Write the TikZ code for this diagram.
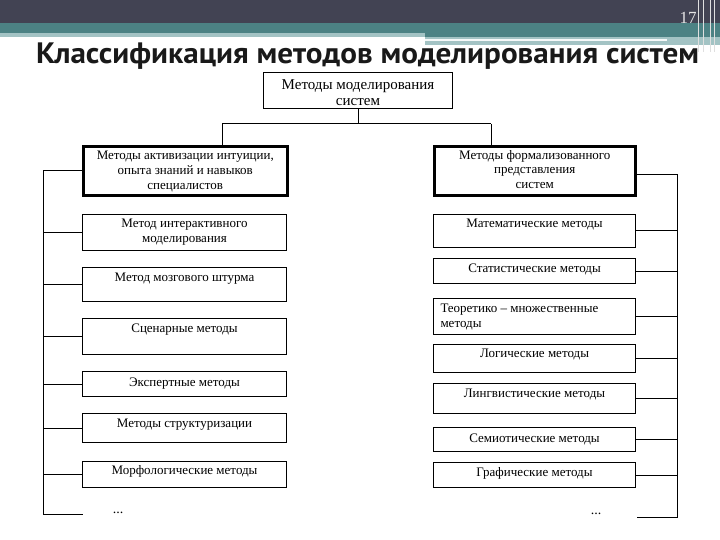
\documentclass[tikz,border=0pt]{standalone}
\usepackage{fontspec}
\setmainfont{Liberation Serif}
\newfontfamily\titlefont{PT Sans}
\definecolor{slate}{HTML}{424353}
\definecolor{teal1}{HTML}{4C8284}
\definecolor{teal2}{HTML}{A3C3C4}
\newcommand{\bt}[5]{\parbox[c][#2][t]{#1}{\centering\baselineskip=#4\rule{0pt}{#3}#5\par}}
\newcommand{\btl}[5]{\parbox[c][#2][t]{#1}{\raggedright\leftskip=7pt\baselineskip=#4\rule{0pt}{#3}#5\par}}
\begin{document}
\begin{tikzpicture}[x=1pt,y=-1pt,
  bx/.style={draw, inner sep=0pt, line width=1pt, anchor=north west, font=\fontsize{13}{15}\selectfont},
  bxthick/.style={bx, line width=2.6pt},
  conn/.style={draw, line width=1pt},
  dots/.style={font=\fontsize{14}{15}\selectfont, inner sep=0pt}]
\useasboundingbox (0,0) rectangle (720,540);
% header decoration
\fill[slate] (0,0) rectangle (720,23);
\fill[teal1] (0,23) rectangle (720,37);
\fill[teal2] (0,33) rectangle (425,37);
\fill[teal2] (425,37) rectangle (720,45);
\fill[white!90!teal2] (425,38.8) rectangle (667,40.6);
\foreach \xx in {698,703,710,714} \draw[gray!25, line width=0.8pt] (\xx,0) -- (\xx,52);
\node[text=gray!20, font=\fontsize{17}{17}\selectfont, inner sep=0pt] (num) at (688,18) {17};
\node[anchor=base west, inner sep=0pt, font=\titlefont\bfseries\fontsize{29.5}{30}\selectfont, text=black!90] (title) at (36,64) {\scalebox{1.055}[1]{Классификация методов моделирования систем}};
% root
\node[bx, font=\fontsize{15}{16}\selectfont] (root) at (263,72) {\bt{189pt}{36pt}{17pt}{16pt}{Методы моделирования\\систем}};
\node[bxthick] (l1) at (82,145) {\bt{204pt}{49pt}{13pt}{15pt}{Методы активизации интуиции,\\опыта знаний и навыков\\специалистов}};
\node[bxthick] (r1) at (433,145) {\bt{201pt}{49pt}{13pt}{14.5pt}{Методы формализованного\\представления\\систем}};
% left items
\node[bx] (a1) at (82,214) {\bt{204pt}{36pt}{13pt}{15pt}{Метод интерактивного\\моделирования}};
\node[bx] (a2) at (82,267) {\bt{204pt}{34pt}{14pt}{15pt}{Метод мозгового штурма}};
\node[bx] (a3) at (82,318) {\bt{204pt}{36pt}{14pt}{15pt}{Сценарные методы}};
\node[bx] (a4) at (82,371) {\bt{204pt}{25pt}{15pt}{15pt}{Экспертные методы}};
\node[bx] (a5) at (82,413) {\bt{204pt}{29pt}{14pt}{15pt}{Методы структуризации}};
\node[bx] (a6) at (82,461) {\bt{204pt}{26pt}{13pt}{15pt}{Морфологические методы}};
% right items
\node[bx] (b1) at (433,214) {\bt{202pt}{33pt}{13pt}{15pt}{Математические методы}};
\node[bx] (b2) at (433,258) {\bt{202pt}{25pt}{14pt}{15pt}{Статистические методы}};
\node[bx] (b3) at (433,298) {\btl{202pt}{36pt}{14pt}{15pt}{Теоретико – множественные\\методы}};
\node[bx] (b4) at (433,344) {\bt{202pt}{28pt}{13pt}{15pt}{Логические методы}};
\node[bx] (b5) at (433,383) {\bt{202pt}{30pt}{14pt}{15pt}{Лингвистические методы}};
\node[bx] (b6) at (433,427) {\bt{202pt}{24pt}{15pt}{15pt}{Семиотические методы}};
\node[bx] (b7) at (433,462) {\bt{202pt}{25pt}{14pt}{15pt}{Графические методы}};
\node[dots] (ld) at (118,513) {...};
\node[dots] (rd) at (596,514) {...};
% tree connectors
\coordinate (jl) at (222,124);
\coordinate (jr) at (491,124);
\draw[conn] (root.south) -- (root.south |- jl);
\draw[conn] (jl) -- (jr);
\draw[conn] (jl) -- (jl |- l1.north);
\draw[conn] (jr) -- (jr |- r1.north);
% left bracket
\coordinate (lb) at (43,0);
\coordinate (lend) at (83,514);
\draw[conn] (l1.west) -- (l1.west -| lb) -- (lb |- lend) -- (lend);
\foreach \n in {a1,a2,a3,a4,a5,a6} \draw[conn] (\n.west) -- (\n.west -| lb);
% right bracket
\coordinate (rb) at (677,0);
\coordinate (rend) at (637,517);
\draw[conn] ([yshift=-3.5pt]r1.east) -- ([yshift=-3.5pt]r1.east -| rb) -- (rb |- rend) -- (rend);
\foreach \n in {b1,b2,b3,b4,b5,b6,b7} \draw[conn] (\n.east) -- (\n.east -| rb);
\end{tikzpicture}
\end{document}
